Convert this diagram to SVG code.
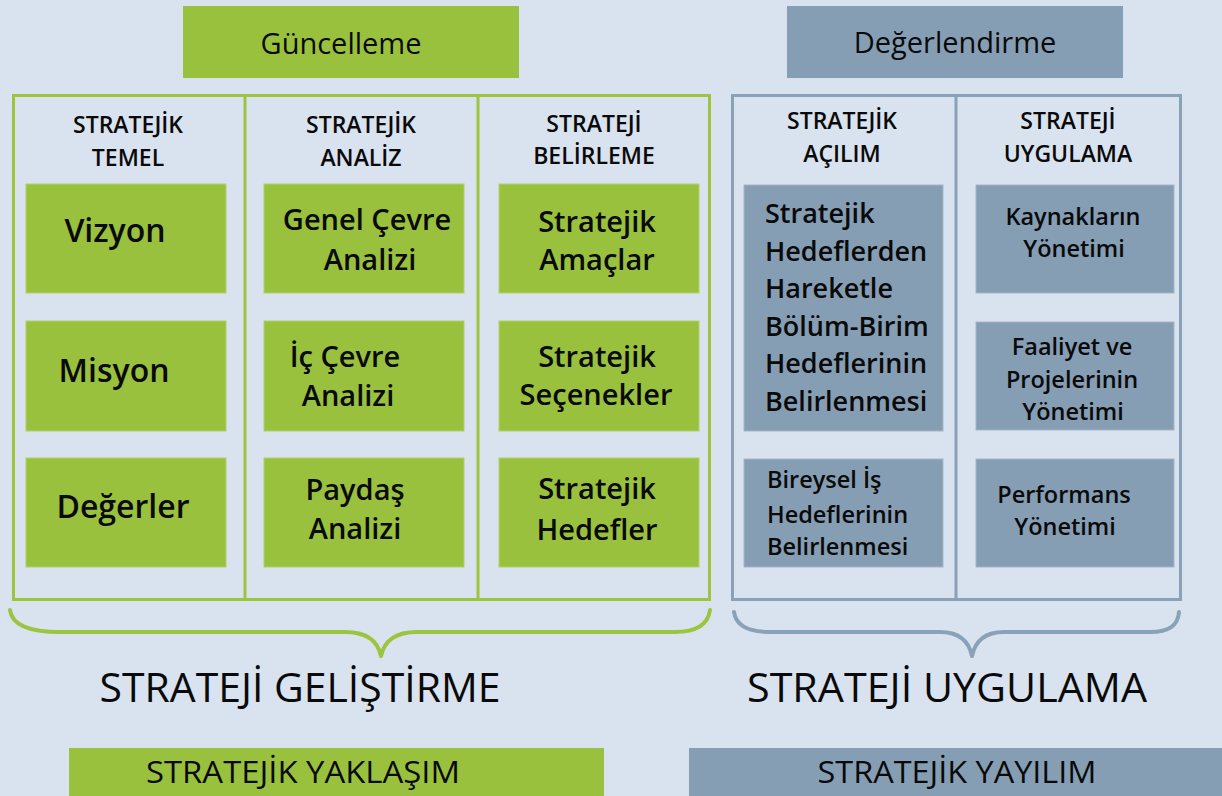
<svg xmlns="http://www.w3.org/2000/svg" width="1222" height="796" viewBox="0 0 1222 796">
<style>
text{font-family:"Open Sans","Noto Sans","Liberation Sans",sans-serif;fill:#0a0a0a;}
.c{text-anchor:middle;}
.hd{font-size:23px;font-weight:600;}
.gb{font-size:29px;font-weight:600;}
.gw{font-size:32px;font-weight:600;}
.top{font-size:29px;font-weight:500;}
.b1{font-size:27px;font-weight:600;}
.b2{font-size:23.5px;font-weight:600;}
.big{font-size:41px;font-weight:500;}
.bar{font-size:31px;font-weight:500;}
.gbox{fill:#9ac13d;stroke:#b3d06a;stroke-width:1;}
.bbox{fill:#869eb4;stroke:#a3b6c8;stroke-width:1;}
.gline{fill:none;stroke:#9dc43f;stroke-width:3;}
.bline{fill:none;stroke:#8aa2b8;stroke-width:3;}
.brace{fill:none;stroke-width:4;stroke-linecap:round;stroke-linejoin:round;}
</style>
<rect x="0" y="0" width="1222" height="796" fill="#d9e3ef"/>

<g id="guncelleme">
<rect x="183" y="6" width="336" height="72" fill="#9ac13d"/>
<text class="top c" x="341" y="54">Güncelleme</text>
</g>
<g id="degerlendirme">
<rect x="787" y="6" width="336" height="72" fill="#869eb4"/>
<text class="top c" x="955" y="53">Değerlendirme</text>
</g>

<g id="frame-gelistirme">
<rect class="gline" x="13.5" y="95.5" width="696" height="504"/>
<line class="gline" x1="245" y1="95" x2="245" y2="600"/>
<line class="gline" x1="478" y1="95" x2="478" y2="600"/>
</g>
<g id="frame-uygulama">
<rect class="bline" x="732.5" y="95.5" width="448" height="504"/>
<line class="bline" x1="956" y1="95" x2="956" y2="600"/>
</g>

<g id="hdr-temel"><text class="hd c" x="128" y="133">STRATEJİK</text><text class="hd c" x="128" y="166">TEMEL</text></g>
<g id="hdr-analiz"><text class="hd c" x="361" y="133">STRATEJİK</text><text class="hd c" x="361" y="166">ANALİZ</text></g>
<g id="hdr-belirleme"><text class="hd c" x="594" y="132">STRATEJİ</text><text class="hd c" x="594" y="164">BELİRLEME</text></g>
<g id="hdr-acilim"><text class="hd c" x="842" y="129">STRATEJİK</text><text class="hd c" x="842" y="162">AÇILIM</text></g>
<g id="hdr-uygulama"><text class="hd c" x="1068" y="129">STRATEJİ</text><text class="hd c" x="1068" y="162">UYGULAMA</text></g>

<g id="vizyon"><rect class="gbox" x="26" y="184" width="200" height="109"/><text class="gw c" x="115" y="242">Vizyon</text></g>
<g id="misyon"><rect class="gbox" x="26" y="321" width="200" height="110"/><text class="gw c" x="114" y="382">Misyon</text></g>
<g id="degerler"><rect class="gbox" x="26" y="458" width="200" height="109"/><text class="gw c" x="123" y="518">Değerler</text></g>

<g id="genel-cevre"><rect class="gbox" x="264" y="184" width="200" height="109"/><text class="gb c" x="367" y="230">Genel Çevre</text><text class="gb c" x="370" y="270">Analizi</text></g>
<g id="ic-cevre"><rect class="gbox" x="264" y="321" width="200" height="110"/><text class="gb c" x="345" y="367">İç Çevre</text><text class="gb c" x="348" y="406">Analizi</text></g>
<g id="paydas"><rect class="gbox" x="264" y="458" width="200" height="109"/><text class="gb c" x="355" y="500">Paydaş</text><text class="gb c" x="355" y="539">Analizi</text></g>

<g id="amaclar"><rect class="gbox" x="499" y="184" width="200" height="109"/><text class="gb c" x="597" y="232">Stratejik</text><text class="gb c" x="597" y="270">Amaçlar</text></g>
<g id="secenekler"><rect class="gbox" x="499" y="321" width="200" height="110"/><text class="gb c" x="597" y="367">Stratejik</text><text class="gb c" x="596" y="405">Seçenekler</text></g>
<g id="hedefler"><rect class="gbox" x="499" y="458" width="200" height="109"/><text class="gb c" x="597" y="499">Stratejik</text><text class="gb c" x="597" y="540">Hedefler</text></g>

<g id="bolum-birim"><rect class="bbox" x="744" y="185" width="199" height="246"/>
<text class="b1" x="765" y="223">Stratejik</text>
<text class="b1" x="765" y="261">Hedeflerden</text>
<text class="b1" x="765" y="298">Hareketle</text>
<text class="b1" x="765" y="336">Bölüm-Birim</text>
<text class="b1" x="765" y="373">Hedeflerinin</text>
<text class="b1" x="765" y="411">Belirlenmesi</text>
</g>
<g id="bireysel"><rect class="bbox" x="744" y="459" width="199" height="108"/>
<text class="b2" x="767" y="488">Bireysel İş</text>
<text class="b2" x="767" y="523">Hedeflerinin</text>
<text class="b2" x="767" y="555">Belirlenmesi</text>
</g>

<g id="kaynaklar"><rect class="bbox" x="976" y="185" width="198" height="108"/><text class="b2 c" x="1073" y="225">Kaynakların</text><text class="b2 c" x="1074" y="257">Yönetimi</text></g>
<g id="faaliyet"><rect class="bbox" x="976" y="322" width="198" height="108"/><text class="b2 c" x="1072" y="355">Faaliyet ve</text><text class="b2 c" x="1072" y="388">Projelerinin</text><text class="b2 c" x="1073" y="420">Yönetimi</text></g>
<g id="performans"><rect class="bbox" x="976" y="459" width="198" height="108"/><text class="b2 c" x="1064" y="503">Performans</text><text class="b2 c" x="1065" y="535">Yönetimi</text></g>

<g id="connectors">
<path class="brace" stroke="#9dc43f" d="M10,610 C12,626 30,632 60,632 L345,632 C368,632 378,642 381,656 C384,642 394,632 417,632 L675,632 C698,632 708,624 710,610"/>
<path class="brace" stroke="#8aa2b8" d="M734,612 C736,626 748,632 770,632 L940,632 C960,632 969,642 972,656 C975,642 984,632 1004,632 L1150,632 C1170,632 1178,625 1179,612"/>
</g>

<g id="strateji-gelistirme"><text class="big c" x="300" y="702" textLength="401" lengthAdjust="spacingAndGlyphs">STRATEJİ GELİŞTİRME</text></g>
<g id="strateji-uygulama"><text class="big c" x="947" y="702" textLength="400" lengthAdjust="spacingAndGlyphs">STRATEJİ UYGULAMA</text></g>

<g id="yaklasim"><rect x="69" y="748" width="535" height="48" fill="#9ac13d"/><text class="bar c" x="303" y="783" textLength="314" lengthAdjust="spacingAndGlyphs">STRATEJİK YAKLAŞIM</text></g>
<g id="yayilim"><rect x="689" y="748" width="533" height="48" fill="#869eb4"/><text class="bar c" x="957" y="783" textLength="279" lengthAdjust="spacingAndGlyphs">STRATEJİK YAYILIM</text></g>
</svg>
